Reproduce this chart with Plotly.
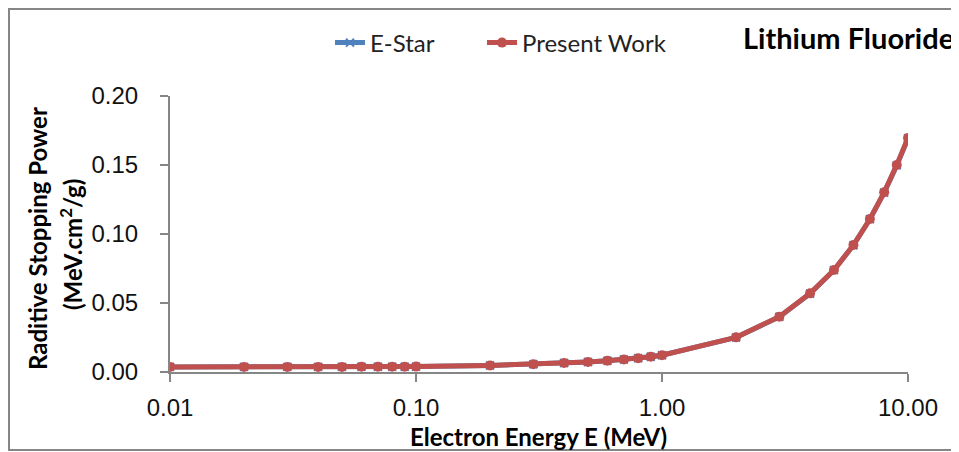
import plotly.graph_objects as go

energy = [0.01, 0.02, 0.03, 0.04, 0.05, 0.06, 0.07, 0.08, 0.09, 0.1,
          0.2, 0.3, 0.4, 0.5, 0.6, 0.7, 0.8, 0.9, 1.0,
          2.0, 3.0, 4.0, 5.0, 6.0, 7.0, 8.0, 9.0, 10.0]
estar = [0.0037, 0.0037, 0.0037, 0.0037, 0.0037, 0.0038, 0.0038, 0.0038, 0.0038, 0.0039,
         0.0047, 0.0056, 0.0065, 0.0073, 0.0081, 0.0090, 0.0100, 0.0110, 0.0121,
         0.0250, 0.0400, 0.0568, 0.0738, 0.0919, 0.1107, 0.1300, 0.1497, 0.1694]
present = [0.0037, 0.0037, 0.0037, 0.0037, 0.0037, 0.0038, 0.0038, 0.0038, 0.0038, 0.0039,
           0.0047, 0.0056, 0.0065, 0.0073, 0.0081, 0.0090, 0.0100, 0.0110, 0.0121,
           0.0251, 0.0401, 0.0570, 0.0739, 0.0920, 0.1109, 0.1302, 0.1500, 0.1696]
x_ticks = [0.01, 0.1, 1, 10]
x_ticklabels = ["0.01", "0.10", "1.00", "10.00"]
y_ticks = [0.0, 0.05, 0.10, 0.15, 0.20]
y_ticklabels = ["0.00", "0.05", "0.10", "0.15", "0.20"]

BLUE = "#4F81BD"
RED = "#C0504D"
GRAY = "#868686"
LABEL_FONT = "Lato, 'Open Sans', sans-serif"
TICK_FONT = "'Liberation Sans', Arial, sans-serif"

fig = go.Figure()
fig.add_trace(go.Scatter(
    x=energy, y=estar, name="E-Star", mode="lines+markers", legend="legend",
    line=dict(color=BLUE, width=5),
    marker=dict(symbol="x-thin", size=8, color=BLUE, line=dict(color=BLUE, width=2)),
))
fig.add_trace(go.Scatter(
    x=energy, y=present, name="Present Work", mode="lines+markers", legend="legend2",
    line=dict(color=RED, width=5),
    marker=dict(symbol="circle", size=10, color=RED),
))

# page offset of the figure inside the html body (default 8px body margin)
OFF = 8
W, H = 951, 444
PLOT_L, PLOT_R, PLOT_T, PLOT_B = 170, 908, 96, 372   # page pixel positions of plot area
L = PLOT_L - OFF
R = (W + OFF) - PLOT_R
T = PLOT_T - OFF
B = (H + OFF) - PLOT_B
pw, ph = PLOT_R - PLOT_L, PLOT_B - PLOT_T

def px(xp):
    return (xp - PLOT_L) / pw

def py(yp):
    return (PLOT_B - yp) / ph

legend_style = dict(
    orientation="h", yanchor="middle", xanchor="left",
    font=dict(family=LABEL_FONT, size=24, color="#222222"),
    bgcolor="rgba(0,0,0,0)",
)

fig.update_layout(
    width=W, height=H,
    margin=dict(l=L, r=R, t=T, b=B),
    paper_bgcolor="white", plot_bgcolor="white",
    showlegend=True,
    legend=dict(x=px(330), y=py(43), **legend_style),
    legend2=dict(x=px(482), y=py(43), **legend_style),
    xaxis=dict(
        type="log", range=[-2, 1],
        tickvals=x_ticks, ticktext=x_ticklabels,
        showgrid=False, zeroline=False,
        showline=True, linecolor=GRAY, linewidth=2,
        ticks="outside", ticklen=8, tickwidth=2, tickcolor=GRAY,
        tickfont=dict(family=TICK_FONT, size=24, color="#111111"),
        ticklabelstandoff=5,
    ),
    yaxis=dict(
        range=[0, 0.2],
        tickvals=y_ticks, ticktext=y_ticklabels,
        showgrid=False, zeroline=False,
        showline=True, linecolor=GRAY, linewidth=2,
        ticks="outside", ticklen=8, tickwidth=2, tickcolor=GRAY,
        tickfont=dict(family=TICK_FONT, size=24, color="#111111"),
        ticklabelstandoff=17,
    ),
    xaxis2=dict(
        type="log", range=[-2, 1], overlaying="x", anchor="y",
        tickvals=x_ticks, showticklabels=False, showgrid=False, zeroline=False,
        showline=False, ticks="inside", ticklen=8, tickwidth=2, tickcolor=GRAY,
    ),
    yaxis2=dict(
        range=[0, 0.2], overlaying="y", anchor="x",
        tickvals=y_ticks, showticklabels=False, showgrid=False, zeroline=False,
        showline=False, ticks="inside", ticklen=8, tickwidth=2, tickcolor=GRAY,
    ),
)

fig.add_annotation(
    text="<b>Lithium Fluoride</b>", xref="paper", yref="paper",
    x=px(956), y=py(38), xanchor="right", yanchor="middle", showarrow=False,
    font=dict(family=LABEL_FONT, size=29, color="#000000"),
)
fig.add_annotation(
    text="<b>Electron Energy E (MeV)</b>", xref="paper", yref="paper",
    x=px(538), y=py(436), xanchor="center", yanchor="middle", showarrow=False,
    font=dict(family=LABEL_FONT, size=24, color="#000000"),
)
fig.add_annotation(
    text="<b>Raditive Stopping Power</b>", xref="paper", yref="paper",
    x=px(37), y=py(239), xanchor="center", yanchor="middle", showarrow=False,
    textangle=-90, font=dict(family=LABEL_FONT, size=24, color="#000000"),
)
fig.add_annotation(
    text="<b>(MeV.cm<sup>2</sup>/g)</b>", xref="paper", yref="paper",
    x=px(71), y=py(245), xanchor="center", yanchor="middle", showarrow=False,
    textangle=-90, font=dict(family=LABEL_FONT, size=24, color="#000000"),
)

# outer chart border
fig.add_shape(type="rect", xref="paper", yref="paper",
              x0=px(9), x1=px(975), y0=py(450), y1=py(OFF + 1),
              line=dict(color=GRAY, width=2), fillcolor="rgba(0,0,0,0)", layer="below")

fig.write_html("out.html")
